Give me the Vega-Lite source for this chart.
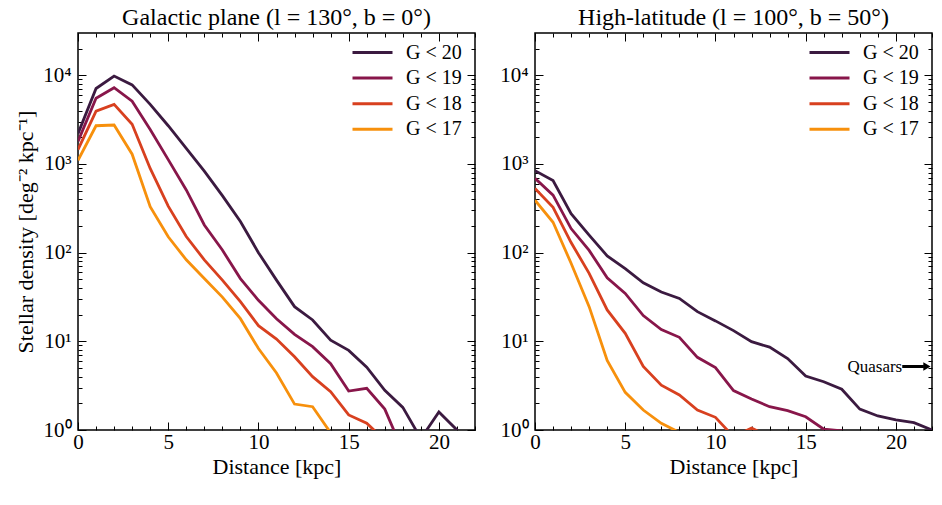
{
  "$schema": "https://vega.github.io/schema/vega-lite/v6.json",
  "padding": {"left": 13, "top": 4, "right": 7, "bottom": 5},
  "autosize": {"type": "pad"},
  "background": "white",
  "datasets": {
    "plane": [
      {"d": 0, "v": 2200, "g": "G < 20"}, {"d": 1, "v": 7100, "g": "G < 20"}, {"d": 2, "v": 9800, "g": "G < 20"}, {"d": 3, "v": 7800, "g": "G < 20"}, {"d": 4, "v": 4700, "g": "G < 20"}, {"d": 5, "v": 2700, "g": "G < 20"}, {"d": 6, "v": 1500, "g": "G < 20"}, {"d": 7, "v": 830, "g": "G < 20"}, {"d": 8, "v": 440, "g": "G < 20"}, {"d": 9, "v": 225, "g": "G < 20"}, {"d": 10, "v": 100, "g": "G < 20"}, {"d": 11, "v": 49, "g": "G < 20"}, {"d": 12, "v": 24.6, "g": "G < 20"}, {"d": 13, "v": 17.4, "g": "G < 20"}, {"d": 14, "v": 10.3, "g": "G < 20"}, {"d": 15, "v": 7.9, "g": "G < 20"}, {"d": 16, "v": 5.1, "g": "G < 20"}, {"d": 17, "v": 2.8, "g": "G < 20"}, {"d": 18, "v": 1.8, "g": "G < 20"}, {"d": 19, "v": 0.8, "g": "G < 20"}, {"d": 20, "v": 1.6, "g": "G < 20"}, {"d": 21, "v": 1.0, "g": "G < 20"}, {"d": 22, "v": 0.5, "g": "G < 20"},
      {"d": 0, "v": 1800, "g": "G < 19"}, {"d": 1, "v": 5500, "g": "G < 19"}, {"d": 2, "v": 7250, "g": "G < 19"}, {"d": 3, "v": 5100, "g": "G < 19"}, {"d": 4, "v": 2450, "g": "G < 19"}, {"d": 5, "v": 1120, "g": "G < 19"}, {"d": 6, "v": 510, "g": "G < 19"}, {"d": 7, "v": 205, "g": "G < 19"}, {"d": 8, "v": 107, "g": "G < 19"}, {"d": 9, "v": 51, "g": "G < 19"}, {"d": 10, "v": 29, "g": "G < 19"}, {"d": 11, "v": 18, "g": "G < 19"}, {"d": 12, "v": 12, "g": "G < 19"}, {"d": 13, "v": 8.7, "g": "G < 19"}, {"d": 14, "v": 5.6, "g": "G < 19"}, {"d": 15, "v": 2.75, "g": "G < 19"}, {"d": 16, "v": 2.95, "g": "G < 19"}, {"d": 17, "v": 1.72, "g": "G < 19"}, {"d": 18, "v": 0.58, "g": "G < 19"},
      {"d": 0, "v": 1450, "g": "G < 18"}, {"d": 1, "v": 3950, "g": "G < 18"}, {"d": 2, "v": 4700, "g": "G < 18"}, {"d": 3, "v": 2800, "g": "G < 18"}, {"d": 4, "v": 890, "g": "G < 18"}, {"d": 5, "v": 335, "g": "G < 18"}, {"d": 6, "v": 152, "g": "G < 18"}, {"d": 7, "v": 83, "g": "G < 18"}, {"d": 8, "v": 49, "g": "G < 18"}, {"d": 9, "v": 28, "g": "G < 18"}, {"d": 10, "v": 15, "g": "G < 18"}, {"d": 11, "v": 10.6, "g": "G < 18"}, {"d": 12, "v": 6.7, "g": "G < 18"}, {"d": 13, "v": 4.0, "g": "G < 18"}, {"d": 14, "v": 2.7, "g": "G < 18"}, {"d": 15, "v": 1.48, "g": "G < 18"}, {"d": 16, "v": 1.19, "g": "G < 18"}, {"d": 17, "v": 0.77, "g": "G < 18"},
      {"d": 0, "v": 1100, "g": "G < 17"}, {"d": 1, "v": 2700, "g": "G < 17"}, {"d": 2, "v": 2750, "g": "G < 17"}, {"d": 3, "v": 1290, "g": "G < 17"}, {"d": 4, "v": 330, "g": "G < 17"}, {"d": 5, "v": 151, "g": "G < 17"}, {"d": 6, "v": 83, "g": "G < 17"}, {"d": 7, "v": 51, "g": "G < 17"}, {"d": 8, "v": 31.5, "g": "G < 17"}, {"d": 9, "v": 18, "g": "G < 17"}, {"d": 10, "v": 8.3, "g": "G < 17"}, {"d": 11, "v": 4.4, "g": "G < 17"}, {"d": 12, "v": 1.96, "g": "G < 17"}, {"d": 13, "v": 1.83, "g": "G < 17"}, {"d": 14, "v": 0.93, "g": "G < 17"}
    ],
    "high": [
      {"d": 0, "v": 840, "g": "G < 20"}, {"d": 1, "v": 650, "g": "G < 20"}, {"d": 2, "v": 275, "g": "G < 20"}, {"d": 3, "v": 158, "g": "G < 20"}, {"d": 4, "v": 92, "g": "G < 20"}, {"d": 5, "v": 66, "g": "G < 20"}, {"d": 6, "v": 45.7, "g": "G < 20"}, {"d": 7, "v": 36, "g": "G < 20"}, {"d": 8, "v": 30.5, "g": "G < 20"}, {"d": 9, "v": 21.6, "g": "G < 20"}, {"d": 10, "v": 17, "g": "G < 20"}, {"d": 11, "v": 13.2, "g": "G < 20"}, {"d": 12, "v": 9.9, "g": "G < 20"}, {"d": 13, "v": 8.6, "g": "G < 20"}, {"d": 14, "v": 6.4, "g": "G < 20"}, {"d": 15, "v": 4.06, "g": "G < 20"}, {"d": 16, "v": 3.5, "g": "G < 20"}, {"d": 17, "v": 2.88, "g": "G < 20"}, {"d": 18, "v": 1.72, "g": "G < 20"}, {"d": 19, "v": 1.44, "g": "G < 20"}, {"d": 20, "v": 1.3, "g": "G < 20"}, {"d": 21, "v": 1.21, "g": "G < 20"}, {"d": 22, "v": 1.0, "g": "G < 20"},
      {"d": 0, "v": 690, "g": "G < 19"}, {"d": 1, "v": 445, "g": "G < 19"}, {"d": 2, "v": 187, "g": "G < 19"}, {"d": 3, "v": 106, "g": "G < 19"}, {"d": 4, "v": 52, "g": "G < 19"}, {"d": 5, "v": 34.7, "g": "G < 19"}, {"d": 6, "v": 19.5, "g": "G < 19"}, {"d": 7, "v": 13.6, "g": "G < 19"}, {"d": 8, "v": 11.1, "g": "G < 19"}, {"d": 9, "v": 6.6, "g": "G < 19"}, {"d": 10, "v": 5.05, "g": "G < 19"}, {"d": 11, "v": 2.78, "g": "G < 19"}, {"d": 12, "v": 2.24, "g": "G < 19"}, {"d": 13, "v": 1.83, "g": "G < 19"}, {"d": 14, "v": 1.65, "g": "G < 19"}, {"d": 15, "v": 1.41, "g": "G < 19"}, {"d": 16, "v": 1.02, "g": "G < 19"}, {"d": 17, "v": 0.98, "g": "G < 19"}, {"d": 18, "v": 0.6, "g": "G < 19"},
      {"d": 0, "v": 530, "g": "G < 18"}, {"d": 1, "v": 325, "g": "G < 18"}, {"d": 2, "v": 130, "g": "G < 18"}, {"d": 3, "v": 58.5, "g": "G < 18"}, {"d": 4, "v": 22.6, "g": "G < 18"}, {"d": 5, "v": 12.3, "g": "G < 18"}, {"d": 6, "v": 5.2, "g": "G < 18"}, {"d": 7, "v": 3.2, "g": "G < 18"}, {"d": 8, "v": 2.48, "g": "G < 18"}, {"d": 9, "v": 1.68, "g": "G < 18"}, {"d": 10, "v": 1.39, "g": "G < 18"}, {"d": 11, "v": 0.84, "g": "G < 18"}, {"d": 12, "v": 1.05, "g": "G < 18"}, {"d": 13, "v": 0.84, "g": "G < 18"},
      {"d": 0, "v": 390, "g": "G < 17"}, {"d": 1, "v": 220, "g": "G < 17"}, {"d": 2, "v": 76, "g": "G < 17"}, {"d": 3, "v": 24.6, "g": "G < 17"}, {"d": 4, "v": 6.1, "g": "G < 17"}, {"d": 5, "v": 2.66, "g": "G < 17"}, {"d": 6, "v": 1.68, "g": "G < 17"}, {"d": 7, "v": 1.19, "g": "G < 17"}, {"d": 8, "v": 0.94, "g": "G < 17"}
    ],
    "quasar": [{"x": 20.35, "x2": 21.55, "y": 5.2, "label": "Quasars", "tip": 21.72}]
  },
  "hconcat": [
    {
      "width": 397, "height": 397,
      "title": "Galactic plane (l = 130°, b = 0°)",
      "data": {"name": "plane"},
      "layer": [
        {
          "mark": {"type": "line", "clip": true, "strokeWidth": 2.8},
          "encoding": {
            "x": {"field": "d", "type": "quantitative", "scale": {"domain": [0, 22], "nice": false, "zero": false},
                  "axis": {"orient": "bottom", "values": [0, 5, 10, 15, 20], "tickSize": -8, "labelPadding": 9, "titlePadding": 4, "title": "Distance [kpc]"}},
            "y": {"field": "v", "type": "quantitative", "scale": {"type": "log", "domain": [1, 30000], "nice": false},
                  "axis": {"orient": "left", "values": [1, 10, 100, 1000, 10000], "tickSize": -8, "labelPadding": 15, "title": "Stellar density [deg⁻² kpc⁻¹]",
                           "labelExpr": "datum.value == 1 ? '10⁰' : datum.value == 10 ? '10¹' : datum.value == 100 ? '10²' : datum.value == 1000 ? '10³' : '10⁴'"}},
            "color": {"field": "g", "type": "nominal",
                      "scale": {"domain": ["G < 20", "G < 19", "G < 18", "G < 17"], "range": ["#3b1a40", "#88164a", "#d8401f", "#f7900c"]},
                      "legend": {"orient": "none", "legendX": 273, "legendY": 7}}
          }
        },
        {
          "mark": {"type": "point", "opacity": 0, "clip": true},
          "encoding": {
            "x": {"field": "d", "type": "quantitative", "axis": {"orient": "bottom", "values": [1,2,3,4,6,7,8,9,11,12,13,14,16,17,18,19,21,22], "tickSize": -4, "labels": false, "title": null}},
            "y": {"field": "v", "type": "quantitative", "axis": {"orient": "left", "values": [2,3,4,5,6,7,8,9,20,30,40,50,60,70,80,90,200,300,400,500,600,700,800,900,2000,3000,4000,5000,6000,7000,8000,9000,20000], "tickSize": -4, "labels": false, "title": null}}
          }
        },
        {
          "mark": {"type": "point", "opacity": 0, "clip": true},
          "encoding": {
            "x": {"field": "d", "type": "quantitative", "axis": {"orient": "top", "values": [0, 5, 10, 15, 20], "tickSize": -8, "labels": false, "title": null}},
            "y": {"field": "v", "type": "quantitative", "axis": {"orient": "right", "values": [1, 10, 100, 1000, 10000], "tickSize": -8, "labels": false, "title": null}}
          }
        },
        {
          "mark": {"type": "point", "opacity": 0, "clip": true},
          "encoding": {
            "x": {"field": "d", "type": "quantitative", "axis": {"orient": "top", "values": [1,2,3,4,6,7,8,9,11,12,13,14,16,17,18,19,21,22], "tickSize": -4, "labels": false, "title": null}},
            "y": {"field": "v", "type": "quantitative", "axis": {"orient": "right", "values": [2,3,4,5,6,7,8,9,20,30,40,50,60,70,80,90,200,300,400,500,600,700,800,900,2000,3000,4000,5000,6000,7000,8000,9000,20000], "tickSize": -4, "labels": false, "title": null}}
          }
        }
      ],
      "resolve": {"axis": {"x": "independent", "y": "independent"}}
    },
    {
      "width": 397, "height": 397,
      "title": "High-latitude (l = 100°, b = 50°)",
      "layer": [
        {
          "data": {"name": "high"},
          "mark": {"type": "line", "clip": true, "strokeWidth": 2.8},
          "encoding": {
            "x": {"field": "d", "type": "quantitative", "scale": {"domain": [0, 22], "nice": false, "zero": false},
                  "axis": {"orient": "bottom", "values": [0, 5, 10, 15, 20], "tickSize": -8, "labelPadding": 9, "titlePadding": 4, "title": "Distance [kpc]"}},
            "y": {"field": "v", "type": "quantitative", "scale": {"type": "log", "domain": [1, 30000], "nice": false},
                  "axis": {"orient": "left", "values": [1, 10, 100, 1000, 10000], "tickSize": -8, "labelPadding": 15, "title": null,
                           "labelExpr": "datum.value == 1 ? '10⁰' : datum.value == 10 ? '10¹' : datum.value == 100 ? '10²' : datum.value == 1000 ? '10³' : '10⁴'"}},
            "color": {"field": "g", "type": "nominal",
                      "scale": {"domain": ["G < 20", "G < 19", "G < 18", "G < 17"], "range": ["#3b1a40", "#88164a", "#d8401f", "#f7900c"]},
                      "legend": {"orient": "none", "legendX": 273, "legendY": 7}}
          }
        },
        {
          "data": {"name": "high"},
          "mark": {"type": "point", "opacity": 0, "clip": true},
          "encoding": {
            "x": {"field": "d", "type": "quantitative", "axis": {"orient": "bottom", "values": [1,2,3,4,6,7,8,9,11,12,13,14,16,17,18,19,21,22], "tickSize": -4, "labels": false, "title": null}},
            "y": {"field": "v", "type": "quantitative", "axis": {"orient": "left", "values": [2,3,4,5,6,7,8,9,20,30,40,50,60,70,80,90,200,300,400,500,600,700,800,900,2000,3000,4000,5000,6000,7000,8000,9000,20000], "tickSize": -4, "labels": false, "title": null}}
          }
        },
        {
          "data": {"name": "high"},
          "mark": {"type": "point", "opacity": 0, "clip": true},
          "encoding": {
            "x": {"field": "d", "type": "quantitative", "axis": {"orient": "top", "values": [0, 5, 10, 15, 20], "tickSize": -8, "labels": false, "title": null}},
            "y": {"field": "v", "type": "quantitative", "axis": {"orient": "right", "values": [1, 10, 100, 1000, 10000], "tickSize": -8, "labels": false, "title": null}}
          }
        },
        {
          "data": {"name": "high"},
          "mark": {"type": "point", "opacity": 0, "clip": true},
          "encoding": {
            "x": {"field": "d", "type": "quantitative", "axis": {"orient": "top", "values": [1,2,3,4,6,7,8,9,11,12,13,14,16,17,18,19,21,22], "tickSize": -4, "labels": false, "title": null}},
            "y": {"field": "v", "type": "quantitative", "axis": {"orient": "right", "values": [2,3,4,5,6,7,8,9,20,30,40,50,60,70,80,90,200,300,400,500,600,700,800,900,2000,3000,4000,5000,6000,7000,8000,9000,20000], "tickSize": -4, "labels": false, "title": null}}
          }
        },
        {
          "data": {"name": "quasar"},
          "mark": {"type": "text", "align": "right", "baseline": "middle", "fontSize": 17, "color": "black"},
          "encoding": {
            "x": {"field": "x", "type": "quantitative", "axis": null},
            "y": {"field": "y", "type": "quantitative", "axis": null},
            "text": {"field": "label"}
          }
        },
        {
          "data": {"name": "quasar"},
          "mark": {"type": "rule", "strokeWidth": 3, "color": "black"},
          "encoding": {
            "x": {"field": "x", "type": "quantitative", "axis": null},
            "x2": {"field": "x2"},
            "y": {"field": "y", "type": "quantitative", "axis": null}
          }
        },
        {
          "data": {"name": "quasar"},
          "mark": {"type": "point", "shape": "triangle-right", "filled": true, "opacity": 1, "size": 70, "color": "black"},
          "encoding": {
            "x": {"field": "tip", "type": "quantitative", "axis": null},
            "y": {"field": "y", "type": "quantitative", "axis": null}
          }
        }
      ],
      "resolve": {"axis": {"x": "independent", "y": "independent"}}
    }
  ],
  "spacing": 60,
  "bounds": "flush",
  "resolve": {"scale": {"color": "independent"}, "legend": {"color": "independent"}},
  "config": {
    "font": "Liberation Serif",
    "view": {"stroke": "black", "strokeWidth": 1.5},
    "axis": {
      "domain": false, "grid": false, "ticks": true,
      "tickColor": "black", "tickWidth": 1,
      "labelFont": "Liberation Serif", "labelFontSize": 21, "labelColor": "black",
      "labelFlush": false, "labelOverlap": false, "labelBound": false,
      "titleFont": "Liberation Serif", "titleFontSize": 22, "titleFontWeight": "normal", "titleColor": "black", "titlePadding": 5
    },
    "title": {"font": "Liberation Serif", "fontSize": 24, "fontWeight": "normal", "color": "black", "offset": 3},
    "legend": {
      "title": null, "symbolType": "stroke", "symbolSize": 1600, "symbolStrokeWidth": 3, "clipHeight": 25,
      "labelFont": "Liberation Serif", "labelFontSize": 20, "labelColor": "black", "labelOffset": 12, "rowPadding": 0.6, "padding": 0
    }
  }
}
